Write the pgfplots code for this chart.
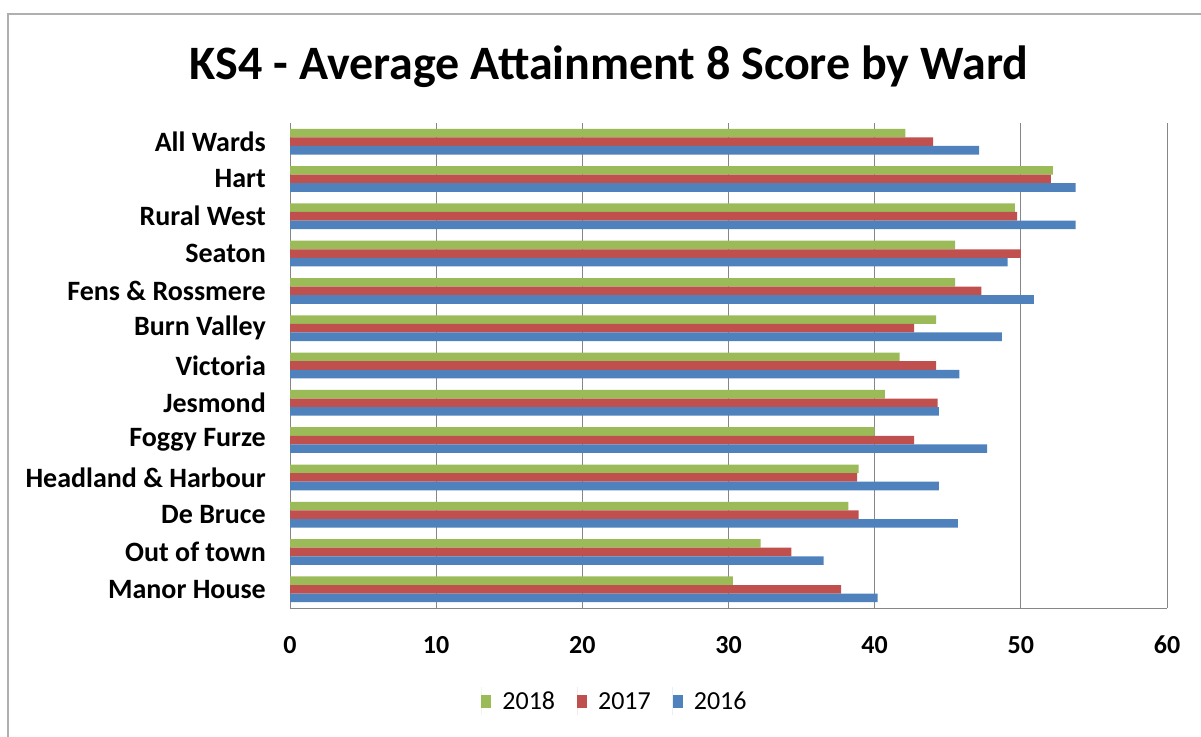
\documentclass[border=0pt]{standalone}
\usepackage{pgfplots}
\pgfplotsset{compat=1.18}
\usepackage{pgfplotstable}
\usepackage{fontspec}
\setmainfont{Carlito}
\definecolor{g18}{RGB}{155,187,89}
\definecolor{r17}{RGB}{192,80,77}
\definecolor{b16}{RGB}{79,129,189}
\definecolor{framegray}{RGB}{175,175,175}
\definecolor{gridgray}{RGB}{134,134,134}
\pgfplotstableread{
y  g18   r17   b16
0  30.3  37.7  40.2
1  32.2  34.3  36.5
2  38.2  38.9  45.7
3  38.9  38.8  44.4
4  40.0  42.7  47.7
5  40.7  44.3  44.4
6  41.7  44.2  45.8
7  44.2  42.7  48.7
8  45.5  47.3  50.9
9  45.5  50.0  49.1
10 49.6  49.75 53.75
11 52.2  52.05 53.75
12 42.1  44.0  47.15
}\wards
\begin{document}
\begin{tikzpicture}[x=1pt,y=1pt]
\useasboundingbox (0,0) rectangle (1201,736);
\draw[framegray, line width=2pt] (7.5,-5) -- (7.5,722) -- (1210,722);
\node[font=\fontsize{48}{52}\selectfont\bfseries, anchor=base, inner sep=0pt] at (609,656) {KS4 - Average Attainment 8 Score by Ward};
\begin{axis}[
  at={(290pt,128pt)}, anchor=south west,
  scale only axis, width=877pt, height=485pt,
  xmin=0, xmax=60, ymin=-0.5, ymax=12.5,
  xtick={0,10,...,60},
  ytick={0,...,12},
  yticklabels={Manor House, Out of town, De Bruce, Headland \& Harbour, Foggy Furze, Jesmond, Victoria, Burn Valley, Fens \& Rossmere, Seaton, Rural West, Hart, All Wards},
  xbar, bar width=0.23,
  axis x line*=bottom, axis y line*=left,
  axis line style={gridgray, line width=1pt},
  xmajorgrids, grid style={gridgray, line width=1pt},
  major tick length=0pt,
  /pgf/number format/assume math mode=true,
  tick label style={inner sep=0pt},
  xticklabel style={font=\fontsize{26}{30}\selectfont\bfseries, anchor=north, yshift=-28pt},
  yticklabel style={font=\fontsize{28}{32}\selectfont\bfseries, anchor=east, xshift=-24pt},
  legend style={at={(0.3694,-0.1920)}, anchor=center, draw=none,
    font=\fontsize{26}{30}\selectfont, nodes={inner sep=0pt, text height=17pt, text depth=0pt},
    /tikz/every odd column/.append style={column sep=11pt},
    /tikz/every even column/.append style={column sep=22pt}},
  legend columns=3,
  legend image code/.code={\path (0pt,-14pt) -- (0pt,14pt); \fill[#1] (0pt,-6.5pt) rectangle (10pt,6.5pt);},
]
\addplot[fill=g18, draw=none, bar shift=0.23] table[x=g18, y=y] {\wards};
\addplot[fill=r17, draw=none, bar shift=0] table[x=r17, y=y] {\wards};
\addplot[fill=b16, draw=none, bar shift=-0.23] table[x=b16, y=y] {\wards};
\legend{2018, 2017, 2016}
\end{axis}
\end{tikzpicture}
\end{document}
